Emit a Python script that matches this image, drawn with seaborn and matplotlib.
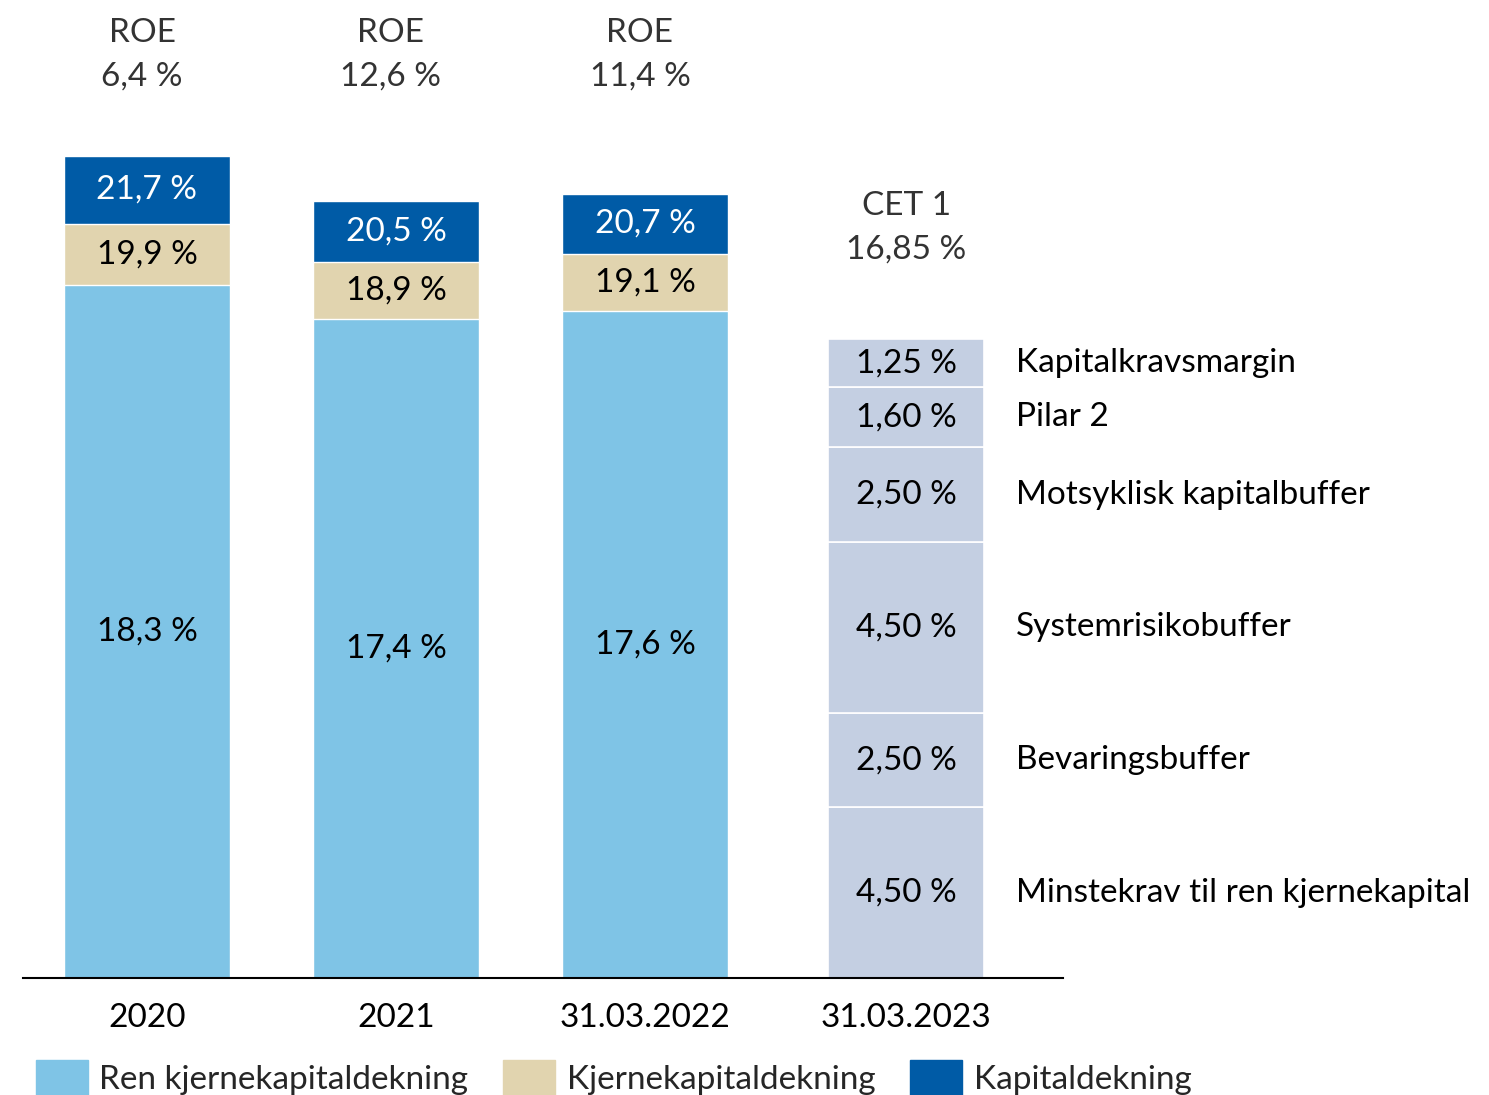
import numpy as np
import pandas as pd
import seaborn as sns
import matplotlib.pyplot as plt
from matplotlib.patches import Patch

# bar data (capital ratios, %)
periods = ["2020", "2021", "31.03.2022"]
ren_kjerne = [18.3, 17.4, 17.6]
kjerne = [19.9, 18.9, 19.1]
kapital = [21.7, 20.5, 20.7]
roe = ["6,4 %", "12,6 %", "11,4 %"]

# CET1 requirement 31.03.2023, bottom -> top
req_period = "31.03.2023"
req_names = ["Minstekrav til ren kjernekapital", "Bevaringsbuffer", "Systemrisikobuffer",
             "Motsyklisk kapitalbuffer", "Pilar 2", "Kapitalkravsmargin"]
req_values = [4.50, 2.50, 4.50, 2.50, 1.60, 1.25]

c_ren = "#7FC4E6"
c_kjerne = "#E1D4AF"
c_kap = "#005BA6"
c_req = "#C4CFE2"

sns.set_theme(style="white")
plt.rcParams["font.family"] = ["Lato", "DejaVu Sans"]
fs = 24

fig = plt.figure(figsize=(14.89, 10.95), dpi=100)
ax = fig.add_axes([23 / 1489, 117 / 1095, 1040 / 1489, 947 / 1095])

df = pd.DataFrame({"period": periods, "ren": ren_kjerne, "kjerne": kjerne, "kapital": kapital})
# layered bars: tallest first so lower segments show on top
sns.barplot(data=df, x="period", y="kapital", color=c_kap, width=0.667, saturation=1, ax=ax)
sns.barplot(data=df, x="period", y="kjerne", color=c_kjerne, width=0.667, saturation=1, ax=ax)
sns.barplot(data=df, x="period", y="ren", color=c_ren, width=0.667, saturation=1, ax=ax)

fmt = lambda v, d=1: f"{v:.{d}f} %".replace(".", ",")
for i in range(len(periods)):
    ax.text(i, ren_kjerne[i] / 2, fmt(ren_kjerne[i]), ha="center", va="center", fontsize=fs, color="black")
    ax.text(i, (ren_kjerne[i] + kjerne[i]) / 2, fmt(kjerne[i]), ha="center", va="center", fontsize=fs, color="black")
    ax.text(i, (kjerne[i] + kapital[i]) / 2, fmt(kapital[i]), ha="center", va="center", fontsize=fs, color="white")
    ax.text(i - 0.02, 24.37, "ROE\n" + roe[i], ha="center", va="center", fontsize=fs,
            color="#333333", linespacing=1.55, clip_on=False)

# requirement stack
x4 = 3.05
bottoms = np.concatenate([[0], np.cumsum(req_values)[:-1]])
ax.bar(x4, req_values, bottom=bottoms, width=0.627, color=c_req, edgecolor="white", linewidth=1.2)
for b, v, name in zip(bottoms, req_values, req_names):
    ax.text(x4, b + v / 2, fmt(v, 2), ha="center", va="center", fontsize=fs, color="black")
    ax.text(x4 + 0.44, b + v / 2, name, ha="left", va="center", fontsize=fs, color="black", clip_on=False)
total = sum(req_values)
ax.text(x4, 19.8, "CET 1\n" + fmt(total, 2), ha="center", va="center",
        fontsize=fs, color="#333333", linespacing=1.55, clip_on=False)

ax.set_xlim(-0.498, 3.679)
ax.set_ylim(0, 24.99)
ax.set_xticks(list(range(len(periods))) + [x4])
ax.set_xticklabels(periods + [req_period], fontsize=fs, color="black")
ax.tick_params(axis="x", length=0, pad=18)
ax.set_yticks([])
ax.set_xlabel("")
ax.set_ylabel("")
for s in ["top", "right", "left"]:
    ax.spines[s].set_visible(False)
ax.spines["bottom"].set_color("black")
ax.spines["bottom"].set_linewidth(1.5)

handles = [Patch(color=c_ren, label="Ren kjernekapitaldekning"),
           Patch(color=c_kjerne, label="Kjernekapitaldekning"),
           Patch(color=c_kap, label="Kapitaldekning")]
fig.legend(handles=handles, loc="upper left", bbox_to_anchor=(36 / 1489, 1 - 1060 / 1095), ncol=3,
           frameon=False, fontsize=fs, handlelength=1.55, handleheight=1.3, handletextpad=0.35,
           columnspacing=1.05, borderaxespad=0, borderpad=0)

fig.savefig("out.png", dpi=100)
